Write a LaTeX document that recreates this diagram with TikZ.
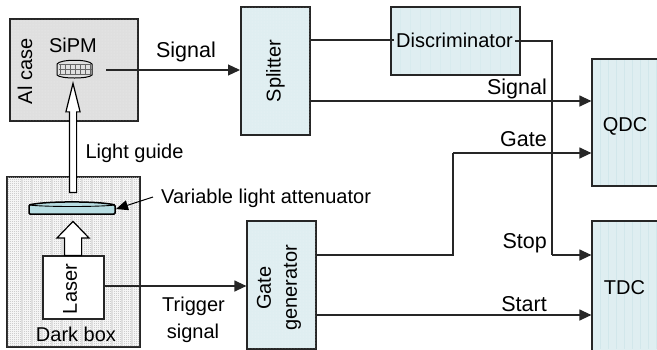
\documentclass[tikz,border=0pt]{standalone}
\usepackage{fontspec}
\setmainfont{Liberation Sans}
\usetikzlibrary{arrows.meta,patterns,shapes.arrows}

\definecolor{boxblue}{HTML}{DFEEF1}
\definecolor{stripeblue}{HTML}{D2E7EB}
\definecolor{boxgray}{HTML}{DFDFDF}
\definecolor{checkgray}{HTML}{B4B4B4}
\definecolor{lensblue}{HTML}{B7DDE2}

\pgfdeclarepatternformonly{checker}{\pgfqpoint{0pt}{0pt}}{\pgfqpoint{2pt}{2pt}}{\pgfqpoint{2pt}{2pt}}{
    \pgfpathrectangle{\pgfqpoint{0pt}{0pt}}{\pgfqpoint{1pt}{1pt}}
    \pgfpathrectangle{\pgfqpoint{1pt}{1pt}}{\pgfqpoint{1pt}{1pt}}
    \pgfusepath{fill}}

\tikzset{
    lbl/.style={inner sep=0pt,font=\fontsize{20}{26}\selectfont},
    biglbl/.style={inner sep=0pt,font=\fontsize{21.5}{26}\selectfont},
    bluebox/.style={draw=black!85,line width=1.2pt,fill=boxblue,inner sep=0pt},
    graybox/.style={bluebox,fill=boxgray},
    whitebox/.style={bluebox,fill=white},
    wire/.style={line width=1.2pt,draw=black!85},
    sig/.style={wire,-{Triangle[length=12pt,width=11pt]}},
    blockarrow/.style={single arrow,draw=black,fill=white,line width=1.2pt,minimum height=#1,anchor=tail,rotate=90}
}

\begin{document}
\begin{tikzpicture}[x=1pt,y=-1pt]
\useasboundingbox (0,0) rectangle (657,349);

% outer boxes
\node[graybox,minimum width=128pt,minimum height=102pt] (alcase) at (74,70) {};
\fill[pattern=dots,pattern color=white,opacity=.45] (alcase.north west) rectangle (alcase.south east);
\draw[black!85,line width=1.2pt] (alcase.north west) rectangle (alcase.south east);

\node[whitebox,minimum width=133pt,minimum height=170pt] (darkbox) at (73.5,262) {};
\fill[pattern=checker,pattern color=checkgray] (darkbox.north west) rectangle (darkbox.south east);
\foreach \x in {22,32,...,132}
    \draw[boxgray,line width=2.5pt] (\x,178) -- (\x,346);
\draw[black!85,line width=1.2pt] (darkbox.north west) rectangle (darkbox.south east);

% blocks
\node[bluebox,minimum width=69pt,minimum height=128pt] (splitter) at (275.5,71) {};
\node[bluebox,minimum width=129pt,minimum height=68pt] (disc) at (455.5,41) {};
\node[bluebox,minimum width=69pt,minimum height=128pt] (gategen) at (281.5,285) {};
\node[bluebox,minimum width=80pt,minimum height=127pt] (qdc) at (632,122.5) {};
\node[bluebox,minimum width=80pt,minimum height=140pt] (tdc) at (632,291) {};
\node[whitebox,minimum width=61pt,minimum height=63pt] (laser) at (73.5,287.5) {};

% stripes of the blocks
\foreach \x in {600,608,...,656} {
    \draw[stripeblue,line width=1pt] (\x,60) -- (\x,185);
    \draw[stripeblue,line width=1pt] (\x,222) -- (\x,349);
}
\foreach \x in {400,410,...,515}
    \draw[stripeblue!50!boxblue,line width=.8pt] (\x,8) -- (\x,74);
\fill[pattern=dots,pattern color=white,opacity=.45] (splitter.north west) rectangle (splitter.south east);
\fill[pattern=dots,pattern color=white,opacity=.45] (gategen.north west) rectangle (gategen.south east);
\draw[black!85,line width=1.2pt] (splitter.north west) rectangle (splitter.south east);
\draw[black!85,line width=1.2pt] (gategen.north west) rectangle (gategen.south east);

% texts of the blocks
\node[lbl,rotate=90] at (splitter) {Splitter};
\node[lbl,inner xsep=2pt] (disctext) at (454.5,40.5) {Discriminator};
\node[lbl,rotate=90,align=center] at (279,288) {Gate\\generator};
\node[lbl] at (625,126) {QDC};
\node[lbl] at (624.5,288) {TDC};
\node[lbl,rotate=90] (lasertext) at (70,289) {Laser};
\node[lbl,rotate=90] (altext) at (25,71.5) {Al case};
\node[lbl] (sipmtext) at (73,45) {SiPM};
\node[lbl] at (76,334) {Dark box};

% SiPM
\coordinate (sipmout) at (106,70);
\draw[black,line width=1pt,fill=black!12] (57,64) .. controls (60,59) and (89,59) .. (92,64)
    -- (92,75) .. controls (89,79) and (60,79) .. (57,75) -- cycle;
\draw[black!60,line width=.6pt,step=5pt,xshift=.5pt,yshift=.5pt] (58,64) grid (91,75);

% attenuator
\draw[black,line width=1.5pt,rounded corners=1pt,fill=lensblue] (29,205) .. controls (45,201) and (99,201) .. (115,205)
    -- (115,214) -- (29,214) -- cycle;
\draw[black,line width=.9pt] (29,205) .. controls (45,207) and (99,207) .. (115,205);
\coordinate (lens) at (116,209);

% block arrows
\node[blockarrow=109pt,single arrow tip angle=28,single arrow head extend=3.5pt,inner sep=3pt] (guide) at (73,193) {};
\node[blockarrow=34pt,single arrow tip angle=88,single arrow head extend=7.5pt,inner sep=8pt] (beam) at (73,256) {};

% connectors
\coordinate (sigend) at (240,70);
\draw[sig] (sipmout) -- (sigend);
\draw[wire] (splitter.east|-0,40) -- (disctext.west|-0,40);
\draw[sig] (splitter.east|-0,101) -- (qdc.west|-0,101);
\draw[wire] (disctext.east|-0,41) -- (552,41) -- (552,255);
\draw[sig] (552,255) -- (tdc.west|-0,255);
\draw[sig] (laser.east|-0,286) -- (gategen.west|-0,286);
\draw[wire] (gategen.east|-0,255) -- (453,255) -- (453,153);
\draw[sig] (453,153) -- (qdc.west|-0,153);
\draw[sig] (gategen.east|-0,315) -- (tdc.west|-0,315);
\coordinate (attnote) at (153,197);
\draw[black,line width=1pt,-{Triangle[length=12pt,width=10pt]}] (attnote) -- (lens);

% labels
\node[biglbl] at (186,52) {Signal};
\node[lbl] at (134.5,153) {Light guide};
\node[lbl,anchor=west] at (161,198) {Variable light attenuator};
\node[lbl] at (193.5,306) {Trigger};
\node[lbl] at (193,333) {signal};
\node[biglbl,anchor=east] at (547,89) {Signal};
\node[biglbl,anchor=east] at (547,139) {Gate};
\node[biglbl,anchor=east] at (547,243) {Stop};
\node[biglbl,anchor=east] at (547,304) {Start};
\end{tikzpicture}
\end{document}
